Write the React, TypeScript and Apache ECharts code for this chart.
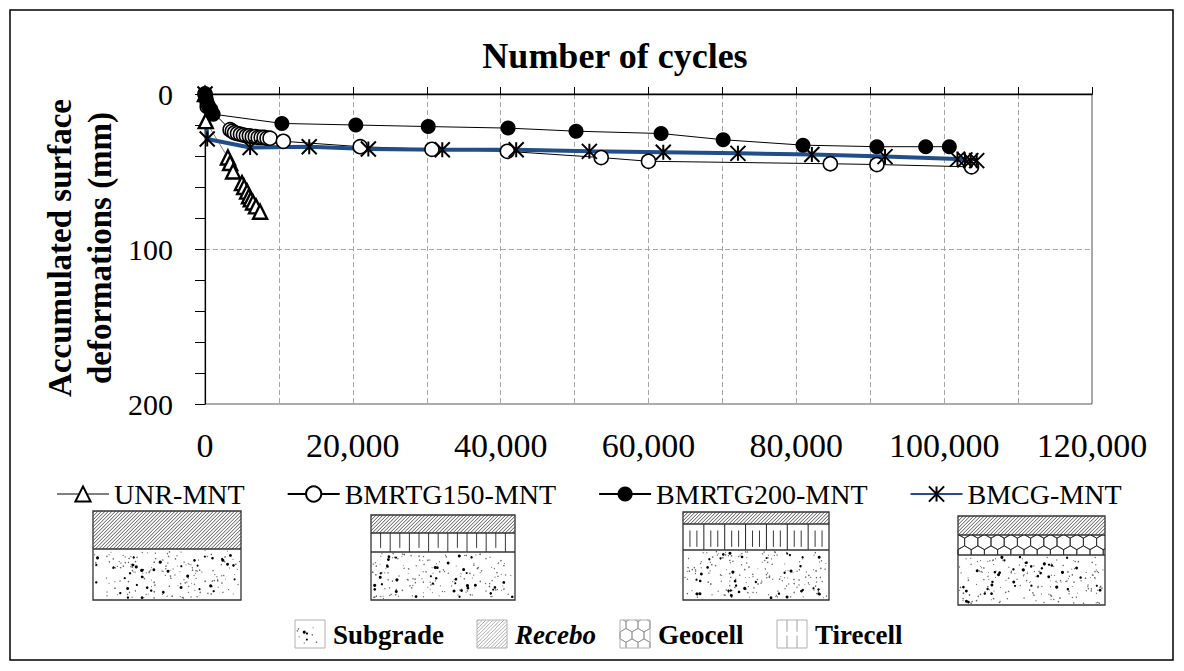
import { useEffect, useRef } from 'react';
import * as echarts from 'echarts';

const FONT = "'Liberation Serif', 'Times New Roman', serif";

// number of cycles / accumulated surface deformation (mm)
const unrCycles = [0, 100, 3100, 3400, 3800, 5000, 5300, 5700, 5950, 6200, 6500, 6900, 7450];
const unrDef = [0, 17.5, 41, 44.5, 50, 57.5, 60, 63, 66, 68, 70, 72.5, 76];

const b150Cycles = [0, 300, 3400, 3700, 4000, 4400, 4800, 5200, 5600, 6000, 6400, 6800, 7200, 7600, 8000, 8400, 8800, 10600, 21000, 30700, 40900, 53600, 60000, 84600, 90900, 103700];
const b150Def = [0, 8, 23, 24, 25, 25.5, 26, 26.5, 27, 27, 27.5, 27.5, 28, 28, 28, 28.5, 28.5, 30.5, 34, 35.7, 37, 41, 43.4, 45, 45.5, 47];

const b200Cycles = [0, 100, 200, 300, 500, 800, 1100, 10400, 20400, 30200, 41000, 50200, 61700, 70100, 80900, 90900, 97500, 100700];
const b200Def = [0, 2, 4, 6, 8, 10, 13, 19, 20, 21, 22, 24, 25.5, 29.5, 33, 34, 34, 34];

const bmcgCycles = [0, 300, 6100, 14100, 22100, 32100, 42100, 52000, 62000, 72100, 82100, 92000, 101800, 102800, 103600, 104400];
const bmcgDef = [0, 29, 34.5, 34, 35.5, 36, 36, 37, 37.6, 38.3, 39, 40.4, 42, 42.5, 43, 43];

const seriesNames = ['UNR-MNT', 'BMRTG150-MNT', 'BMRTG200-MNT', 'BMCG-MNT'];
const xLabelValues = [0, 20000, 40000, 60000, 80000, 100000, 120000];
const yLabelValues = [0, 100, 200];
const materialNames = ['Subgrade', 'Recebo', 'Geocell', 'Tirecell'];
const xTitle = 'Number of cycles';
const yTitle = 'Accumulated surface\ndeformations (mm)';

const STAR = 'path://M0 0L20 20M0 20L20 0M10 0L10 20';

const pairs = (xs: number[], ys: number[]) => xs.map((x, i) => [x, ys[i]]);

// ---- little drawing helpers for the pavement sketches ----
const ln = (x1: number, y1: number, x2: number, y2: number, stroke: string, lw = 0.8) => ({
  type: 'line', silent: true, shape: { x1, y1, x2, y2 }, style: { stroke, lineWidth: lw },
});

function clipSeg(x1: number, y1: number, x2: number, y2: number, rx: number, ry: number, rw: number, rh: number) {
  let t0 = 0, t1 = 1;
  const dx = x2 - x1, dy = y2 - y1;
  const p = [-dx, dx, -dy, dy];
  const q = [x1 - rx, rx + rw - x1, y1 - ry, ry + rh - y1];
  for (let i = 0; i < 4; i++) {
    if (p[i] === 0) {
      if (q[i] < 0) return null;
    } else {
      const t = q[i] / p[i];
      if (p[i] < 0) {
        if (t > t1) return null;
        if (t > t0) t0 = t;
      } else {
        if (t < t0) return null;
        if (t < t1) t1 = t;
      }
    }
  }
  if (t1 - t0 < 1e-6) return null;
  return [x1 + t0 * dx, y1 + t0 * dy, x1 + t1 * dx, y1 + t1 * dy];
}

function hatch(x: number, y: number, w: number, h: number, gap: number, stroke: string, lw: number) {
  const out: any[] = [];
  for (let c = gap / 2; c < w + h; c += gap) {
    const xa = Math.max(0, c - h), xb = Math.min(w, c);
    if (xb <= xa) continue;
    out.push(ln(x + xa, y + (c - xa), x + xb, y + (c - xb), stroke, lw));
  }
  return out;
}

function speckle(x: number, y: number, w: number, h: number, seed: number, nSmall: number, nBig: number) {
  let s = seed;
  const rnd = () => {
    s = (s * 16807) % 2147483647;
    return s / 2147483647;
  };
  const out: any[] = [];
  for (let i = 0; i < nSmall; i++) {
    out.push({ type: 'circle', silent: true, shape: { cx: x + 1.5 + rnd() * (w - 3), cy: y + 1.5 + rnd() * (h - 3), r: 0.45 + rnd() * 0.35 }, style: { fill: '#666' } });
  }
  for (let i = 0; i < nBig; i++) {
    out.push({ type: 'circle', silent: true, shape: { cx: x + 2 + rnd() * (w - 4), cy: y + 2 + rnd() * (h - 4), r: 1.0 + rnd() * 0.6 }, style: { fill: '#000' } });
  }
  return out;
}

function honeycomb(x: number, y: number, w: number, h: number, hexW: number, yOff: number, stroke: string, lw: number) {
  const R = hexW / Math.sqrt(3);
  const rowH = 1.5 * R;
  const out: any[] = [];
  for (let row = -1; row * rowH + yOff - R < h; row++) {
    const cy = y + yOff + row * rowH;
    const shift = Math.abs(row) % 2 ? hexW / 2 : 0;
    for (let cx = x - hexW + shift; cx < x + w + hexW; cx += hexW) {
      const pts: number[][] = [];
      for (let k = 0; k < 6; k++) {
        const a = -Math.PI / 2 + (k * Math.PI) / 3;
        pts.push([cx + R * Math.cos(a), cy + R * Math.sin(a)]);
      }
      for (let k = 0; k < 6; k++) {
        const a = pts[k], b = pts[(k + 1) % 6];
        const c = clipSeg(a[0], a[1], b[0], b[1], x, y, w, h);
        if (c) out.push(ln(c[0], c[1], c[2], c[3], stroke, lw));
      }
    }
  }
  return out;
}

function tirecell(x: number, y: number, w: number, h: number, coarse: boolean, stroke: string) {
  const out: any[] = [];
  if (coarse) {
    const n = 7, step = w / n;
    for (let i = 1; i < n; i++) out.push(ln(x + i * step, y, x + i * step, y + h, stroke, 1));
    for (let i = 0; i < n; i++) {
      out.push(ln(x + i * step + step / 3, y + h * 0.25, x + i * step + step / 3, y + h * 0.88, stroke, 0.9));
      out.push(ln(x + i * step + (2 * step) / 3, y + h * 0.25, x + i * step + (2 * step) / 3, y + h * 0.88, stroke, 0.9));
    }
  } else {
    const n = 15, step = w / n;
    for (let i = 1; i < n; i++) {
      const full = i % 2 === 0;
      out.push(ln(x + i * step, y, x + i * step, y + (full ? h : h * 0.78), stroke, 0.9));
    }
  }
  return out;
}

type Layer = { kind: 'recebo' | 'subgrade' | 'tireFine' | 'tireCoarse' | 'geocell'; h: number };
const sketches: { x: number; y: number; w: number; layers: Layer[] }[] = [
  { x: 93, y: 511, w: 148, layers: [{ kind: 'recebo', h: 38 }, { kind: 'subgrade', h: 51 }] },
  { x: 371, y: 515, w: 144, layers: [{ kind: 'recebo', h: 18 }, { kind: 'tireFine', h: 19 }, { kind: 'subgrade', h: 48 }] },
  { x: 683, y: 512, w: 146, layers: [{ kind: 'recebo', h: 12 }, { kind: 'tireCoarse', h: 26 }, { kind: 'subgrade', h: 50 }] },
  { x: 958, y: 516, w: 147, layers: [{ kind: 'recebo', h: 19 }, { kind: 'geocell', h: 20 }, { kind: 'subgrade', h: 50 }] },
];

function buildGraphics() {
  const els: any[] = [];
  // outer frame
  els.push({ type: 'rect', silent: true, shape: { x: 10, y: 10, width: 1163, height: 650 }, style: { fill: 'none', stroke: '#000', lineWidth: 1.5 } });

  // axis titles
  els.push({
    type: 'text', silent: true, x: 615, y: 56,
    style: { text: xTitle, font: `bold 36px ${FONT}`, fill: '#000', textAlign: 'center', textVerticalAlign: 'middle' },
  });
  els.push({
    type: 'text', silent: true, x: 80, y: 248, rotation: Math.PI / 2,
    style: { text: yTitle, font: `bold 33px ${FONT}`, fill: '#000', textAlign: 'center', textVerticalAlign: 'middle', lineHeight: 40 },
  });

  sketches.forEach((sk, si) => {
    let cy = sk.y;
    const total = sk.layers.reduce((a, l) => a + l.h, 0);
    sk.layers.forEach((L) => {
      if (L.kind === 'recebo') els.push(...hatch(sk.x, cy, sk.w, L.h, 3.5, '#333', 0.85));
      if (L.kind === 'subgrade') els.push(...speckle(sk.x, cy, sk.w, L.h, 1234 + si * 977, Math.round((sk.w * L.h) / 28), Math.round((sk.w * L.h) / 190)));
      if (L.kind === 'tireFine') els.push(...tirecell(sk.x, cy, sk.w, L.h, false, '#222'));
      if (L.kind === 'tireCoarse') els.push(...tirecell(sk.x, cy, sk.w, L.h, true, '#222'));
      if (L.kind === 'geocell') els.push(...honeycomb(sk.x, cy, sk.w, L.h, 13.2, 7, '#222', 0.8));
      cy += L.h;
      if (cy < sk.y + total - 0.5) els.push(ln(sk.x, cy, sk.x + sk.w, cy, '#333', 1.3));
    });
    els.push({ type: 'rect', silent: true, shape: { x: sk.x, y: sk.y, width: sk.w, height: total }, style: { fill: 'none', stroke: '#333', lineWidth: 1.3 } });
  });

  // material key at the bottom
  const keyY = 620, keyW = 30, keyH = 28;
  const keys = [
    { sx: 295, tx: 333, italic: false },
    { sx: 477, tx: 515, italic: true },
    { sx: 620, tx: 658, italic: false },
    { sx: 777, tx: 815, italic: false },
  ];
  keys.forEach((k, i) => {
    if (i === 0) els.push(...speckle(k.sx, keyY, keyW, keyH, 4321, 16, 3));
    if (i === 1) els.push(...hatch(k.sx, keyY, keyW, keyH, 3.6, '#8a8a8a', 0.7));
    if (i === 2) els.push(...honeycomb(k.sx, keyY, keyW, keyH, 12, 5, '#888', 0.7));
    if (i === 3) {
      [1 / 3, 2 / 3].forEach((f) => {
        els.push(ln(k.sx + keyW * f, keyY, k.sx + keyW * f, keyY + keyH * 0.42, '#888', 0.8));
        els.push(ln(k.sx + keyW * f, keyY + keyH * 0.56, k.sx + keyW * f, keyY + keyH, '#888', 0.8));
      });
    }
    els.push({ type: 'rect', silent: true, shape: { x: k.sx, y: keyY, width: keyW, height: keyH }, style: { fill: 'none', stroke: '#b0b0b0', lineWidth: 1 } });
    els.push({
      type: 'text', silent: true, x: k.tx, y: keyY + keyH / 2 + 1,
      style: { text: materialNames[i], font: `${k.italic ? 'italic ' : ''}bold 27px ${FONT}`, fill: '#000', textAlign: 'left', textVerticalAlign: 'middle' },
    });
  });
  return els;
}

export default function App() {
  const ref = useRef<HTMLDivElement>(null);

  useEffect(() => {
    if (!ref.current) return;
    const chart = echarts.init(ref.current, undefined, { renderer: 'svg' });

    const splitColors = ['transparent', 'transparent', 'transparent', 'transparent', 'transparent', '#a6a6a6', 'transparent', 'transparent', 'transparent', 'transparent'];

    chart.setOption({
      animation: false,
      backgroundColor: '#fff',
      grid: { left: 205, top: 94, width: 887, height: 310, show: true, borderColor: '#595959', borderWidth: 1, backgroundColor: 'transparent' },
      legend: {
        data: seriesNames,
        left: 56,
        top: 480,
        padding: 0,
        itemWidth: 52,
        itemHeight: 19,
        itemGap: 42,
        selectedMode: false,
        textStyle: { fontFamily: FONT, fontSize: 28, color: '#000' },
      },
      xAxis: [
        {
          type: 'value',
          position: 'bottom',
          min: 0,
          max: 120000,
          interval: 10000,
          axisLine: { show: true, lineStyle: { color: '#595959', width: 1 } },
          axisTick: { show: false },
          axisLabel: {
            margin: 24,
            fontFamily: FONT,
            fontSize: 34,
            color: '#000',
            formatter: (v: number) => (xLabelValues.includes(v) ? v.toLocaleString('en-US') : ''),
          },
          splitLine: { show: true, lineStyle: { color: '#a6a6a6', type: [5, 3], width: 1 } },
        },
        {
          type: 'value',
          position: 'top',
          min: 0,
          max: 120000,
          interval: 10000,
          axisLine: { show: true, lineStyle: { color: '#000', width: 1.3 } },
          axisTick: { show: true, inside: false, length: 7, lineStyle: { color: '#000' } },
          axisLabel: { show: false },
          splitLine: { show: false },
        },
      ],
      yAxis: {
        type: 'value',
        inverse: true,
        min: 0,
        max: 200,
        interval: 20,
        axisLine: { show: true, lineStyle: { color: '#000', width: 1.2 } },
        axisTick: { show: true, inside: false, length: 10, lineStyle: { color: '#000' } },
        axisLabel: {
          margin: 32,
          fontFamily: FONT,
          fontSize: 30,
          color: '#000',
          formatter: (v: number) => (yLabelValues.includes(v) ? String(v) : ''),
        },
        splitLine: { show: true, lineStyle: { color: splitColors, type: [5, 3], width: 1 } },
      },
      series: [
        {
          name: seriesNames[0],
          type: 'line',
          clip: false,
          data: pairs(unrCycles, unrDef),
          symbol: 'triangle',
          symbolSize: 14,
          lineStyle: { color: '#808080', width: 1 },
          itemStyle: { color: '#fff', borderColor: '#000', borderWidth: 2.4 },
        },
        {
          name: seriesNames[1],
          type: 'line',
          clip: false,
          data: pairs(b150Cycles, b150Def),
          symbol: 'circle',
          symbolSize: 14,
          lineStyle: { color: '#000', width: 1 },
          itemStyle: { color: '#fff', borderColor: '#000', borderWidth: 1.6 },
        },
        {
          name: seriesNames[2],
          type: 'line',
          clip: false,
          data: pairs(b200Cycles, b200Def),
          symbol: 'circle',
          symbolSize: 15,
          lineStyle: { color: '#000', width: 1 },
          itemStyle: { color: '#000', borderColor: '#000', borderWidth: 0 },
        },
        {
          name: seriesNames[3],
          type: 'line',
          clip: false,
          data: pairs(bmcgCycles, bmcgDef),
          symbol: STAR,
          symbolSize: 15,
          lineStyle: { color: '#1F4E89', width: 4 },
          itemStyle: { color: 'transparent', borderColor: '#000', borderWidth: 2 },
        },
      ],
      graphic: { elements: buildGraphics() },
    });

    return () => chart.dispose();
  }, []);

  return <div ref={ref} style={{ position: 'absolute', left: 0, top: 0, width: 1184, height: 671 }} />;
}
